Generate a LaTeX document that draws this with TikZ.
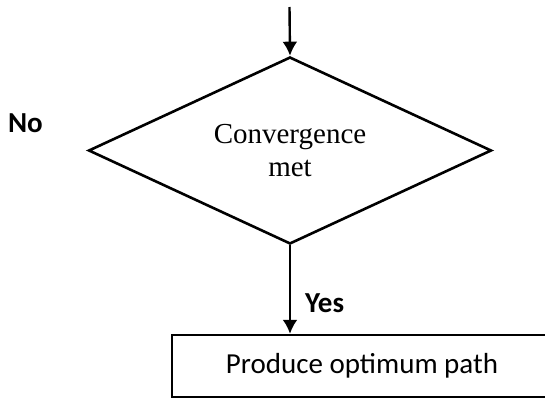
\documentclass[tikz,border=0pt]{standalone}
\usepackage{fontspec}
\setmainfont{Liberation Serif}
\newfontfamily\calib{Carlito}
\usetikzlibrary{shapes.geometric,positioning,arrows.meta}
\begin{document}
\begin{tikzpicture}[x=0.5pt, y=0.5pt,
		decision/.style={draw, diamond, line width=1.3pt, inner sep=0pt, aspect=2.155, minimum width=201.5pt, minimum height=93.5pt, align=center, font=\fontsize{14.5}{16.5}\selectfont},
		process/.style={draw, line width=1.2pt, minimum width=205pt, minimum height=31pt},
		txt/.style={inner sep=0pt, font=\calib\fontsize{14.5}{16.5}\selectfont},
		lbl/.style={inner sep=0pt, font=\calib\bfseries\fontsize{14.5}{16.5}\selectfont},
		flow/.style={-{Latex[width=7.5pt,length=7pt]}, line width=1.2pt}]
		\useasboundingbox (0,0) rectangle (545,398);
		\node[decision] (conv) at (290,247.5) {Convergence\\met};
		\node[process, anchor=west] (prod) at (171,32) {};
		\node[txt] (prodtxt) at (362,32) {Produce optimum path};
		\coordinate (in) at (289.5,391);
		\node[lbl, above left=8.5pt and 22pt of conv.west] (no) {No};
		\draw[flow] (in) -- (conv.north);
		\draw[flow] (conv.south) -- node[lbl, right=7pt, pos=.65] (yes) {Yes} (conv.south |- prod.north);
	\end{tikzpicture}
\end{document}
